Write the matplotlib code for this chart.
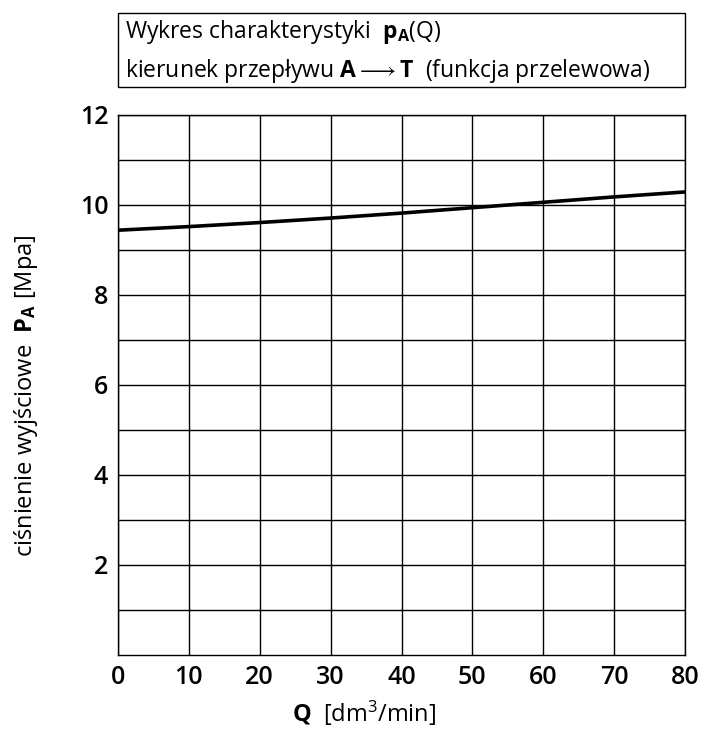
import numpy as np
import matplotlib
matplotlib.use("Agg")
import matplotlib.pyplot as plt
from matplotlib.patches import Rectangle

plt.rcParams['font.family'] = ['Open Sans', 'DejaVu Sans']
plt.rcParams['mathtext.fontset'] = 'custom'
plt.rcParams['mathtext.rm'] = 'Open Sans'
plt.rcParams['mathtext.bf'] = 'Open Sans:bold'
plt.rcParams['mathtext.it'] = 'Open Sans'

# dane
q = [0, 10, 20, 30, 40, 50, 60, 70, 80]
p_a = [9.44, 9.52, 9.61, 9.71, 9.82, 9.94, 10.06, 10.18, 10.29]
x_ticks = [0, 10, 20, 30, 40, 50, 60, 70, 80]
y_ticks = [2, 4, 6, 8, 10, 12]

fig = plt.figure(figsize=(7.04, 7.31), dpi=100)
ax = fig.add_axes([118/704, 1-655/731, 567/704, 540/731])

ax.plot(q, p_a, color='black', lw=2.6, solid_capstyle='butt', clip_on=False)

ax.set_xlim(0, 80)
ax.set_ylim(0, 12)
ax.set_xticks(x_ticks)
ax.set_yticks(y_ticks)
ax.set_yticks(np.arange(1, 12, 1), minor=True)
ax.grid(True, which='both', color='black', lw=1.0)
ax.tick_params(which='both', length=0)
ax.tick_params(axis='both', labelsize=18, pad=7)
for lab in ax.get_xticklabels() + ax.get_yticklabels():
    lab.set_fontweight('semibold')
for s in ax.spines.values():
    s.set_linewidth(1.0)

fig.text(364/704, 1-722/731, r'$\mathbf{Q}$  [dm$^3$/min]', ha='center', va='baseline',
         fontsize=17)
fig.text(26/704, 1-396/731, r'ciśnienie wyjściowe  $\mathbf{P_A}$ [Mpa]', ha='center',
         va='center', rotation=90, fontsize=17)

# ramka z tytułem
fig.patches.append(Rectangle((118/704, 1-87/731), 567/704, 74/731, transform=fig.transFigure,
                             fill=False, ec='black', lw=1.0))
fig.text(125/704, 1-38/731, r'Wykres charakterystyki  $\mathbf{p_A}$(Q)', ha='left',
         va='baseline', fontsize=16.5)
fig.text(125/704, 1-77/731, 'kierunek przepływu $\\mathbf{A} \\longrightarrow \\mathbf{T}$  (funkcja przelewowa)',
         ha='left', va='baseline', fontsize=16.5)

fig.savefig('out.png', dpi=100)
